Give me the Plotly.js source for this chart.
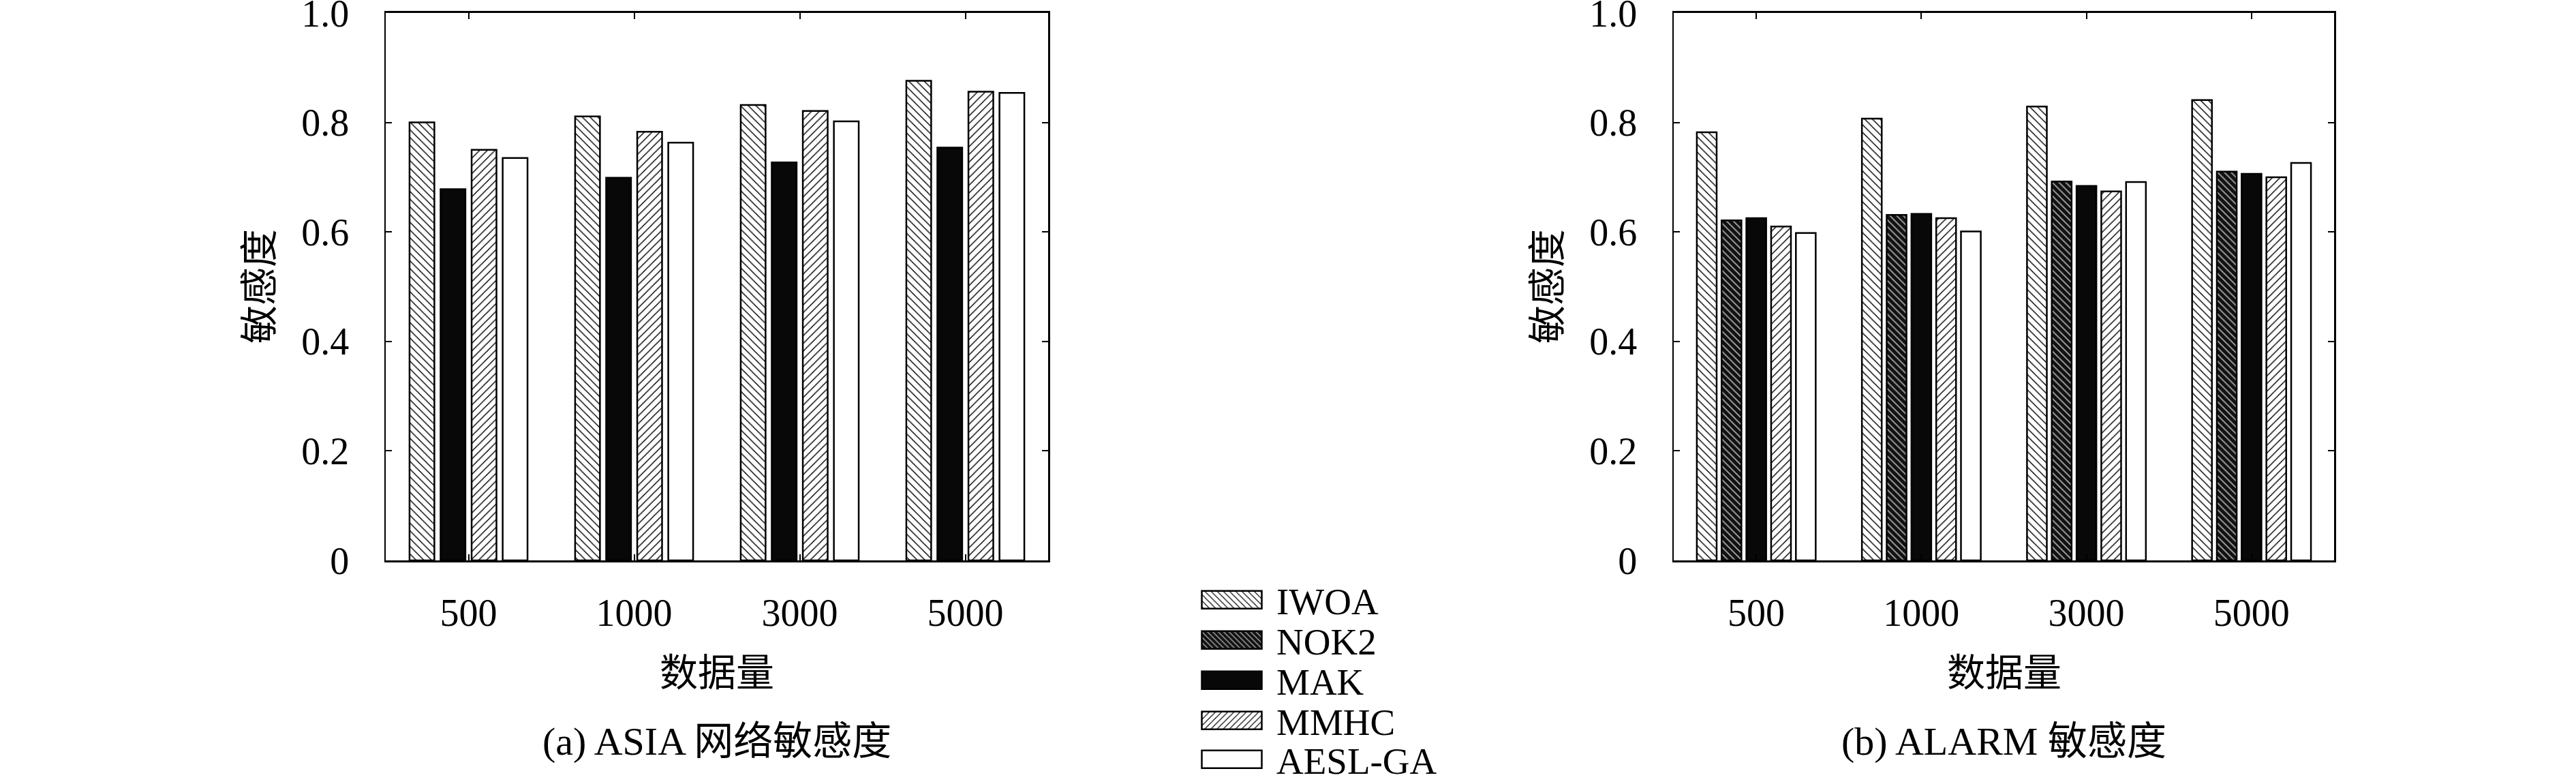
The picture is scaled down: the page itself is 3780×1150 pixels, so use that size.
<!DOCTYPE html>
<html>
<head>
<meta charset="utf-8">
<script src="https://cdn.plot.ly/plotly-3.0.1.min.js"></script>
<style>
  html, body { margin: 0; padding: 0; background: #fff; }
  #chart { width: 3780px; height: 1150px; }
</style>
</head>
<body>
<div id="chart"></div>
<script>
// ---------- DATA ----------
const sizes = ["500", "1000", "3000", "5000"];
const yTickVals = [0, 0.2, 0.4, 0.6, 0.8, 1.0];
const yTickText = ["0", "0.2", "0.4", "0.6", "0.8", "1.0"];

// (a) ASIA
const asiaIWOA = [0.800, 0.811, 0.832, 0.876];
const asiaMAK  = [0.678, 0.699, 0.727, 0.754];
const asiaMMHC = [0.750, 0.783, 0.821, 0.856];
const asiaAESL = [0.735, 0.763, 0.802, 0.854];

// (b) ALARM
const alarmIWOA = [0.782, 0.807, 0.829, 0.841];
const alarmNOK2 = [0.621, 0.631, 0.692, 0.710];
const alarmMAK  = [0.625, 0.633, 0.684, 0.706];
const alarmMMHC = [0.610, 0.625, 0.674, 0.700];
const alarmAESL = [0.598, 0.601, 0.691, 0.726];

// ---------- STYLES ----------
const SERIF = "'Liberation Serif', 'DejaVu Serif', serif";
const MIXED = "'Liberation Serif', 'Noto Sans CJK SC', serif";
const outline = { color: "#000", width: 2.5 };

const styles = {
  IWOA: { color: "#fff", line: outline,
          pattern: { shape: "\\", fgcolor: "#000", bgcolor: "#fff", size: 8, solidity: 0.18 } },
  NOK2: { color: "#111", line: outline,
          pattern: { shape: "\\", fgcolor: "#aaa", bgcolor: "#111", size: 7, solidity: 0.25 } },
  MAK:  { color: "#080808", line: outline },
  MMHC: { color: "#fff", line: outline,
          pattern: { shape: "/", fgcolor: "#000", bgcolor: "#fff", size: 8, solidity: 0.18 } },
  AESL: { color: "#fff", line: outline }
};

function bar(name, key, y, xa, ya, legendId) {
  return {
    type: "bar", name: name, x: sizes, y: y,
    xaxis: xa, yaxis: ya,
    marker: styles[key],
    showlegend: !!legendId,
    legend: legendId || "legend",
    hoverinfo: "skip"
  };
}

const traces = [
  bar("IWOA", "IWOA", asiaIWOA, "x", "y"),
  bar("MAK", "MAK", asiaMAK, "x", "y"),
  bar("MMHC", "MMHC", asiaMMHC, "x", "y"),
  bar("AESL-GA", "AESL", asiaAESL, "x", "y"),

  bar("IWOA", "IWOA", alarmIWOA, "x2", "y2", "legend"),
  bar("NOK2", "NOK2", alarmNOK2, "x2", "y2", "legend2"),
  bar("MAK", "MAK", alarmMAK, "x2", "y2", "legend3"),
  bar("MMHC", "MMHC", alarmMMHC, "x2", "y2", "legend4"),
  bar("AESL-GA", "AESL", alarmAESL, "x2", "y2", "legend5")
];

// ---------- AXES ----------
function xAxis(domain, anchor) {
  return {
    domain: domain, anchor: anchor, type: "category",
    showline: true, linecolor: "#000", linewidth: 2.5, mirror: "ticks",
    ticks: "inside", ticklen: 9, tickwidth: 2, tickcolor: "#000",
    ticklabelstandoff: 26,
    tickfont: { family: SERIF, size: 56, color: "#000" },
    showgrid: false, zeroline: false, fixedrange: true
  };
}
function yAxis(anchor) {
  return {
    domain: [0.2852, 0.9835], anchor: anchor, range: [0, 1],
    tickvals: yTickVals, ticktext: yTickText,
    showline: true, linecolor: "#000", linewidth: 2.5, mirror: "ticks",
    ticks: "inside", ticklen: 9, tickwidth: 2, tickcolor: "#000",
    ticklabelstandoff: 40, ticklabeloverflow: "allow",
    tickfont: { family: SERIF, size: 56, color: "#000" },
    showgrid: false, zeroline: false, fixedrange: true
  };
}

function legendAt(yPix) {
  return {
    xref: "container", yref: "container",
    x: 1742 / 3780, xanchor: "left",
    y: 1 - yPix / 1150, yanchor: "middle",
    bgcolor: "rgba(0,0,0,0)", borderwidth: 0,
    itemwidth: 121, itemclick: false, itemdoubleclick: false,
    font: { family: SERIF, size: 55, color: "#000" }
  };
}

function text(t, x, y, size, angle) {
  return {
    text: t, xref: "paper", yref: "paper", x: x, y: y,
    xanchor: "center", yanchor: "middle", showarrow: false,
    textangle: angle || 0,
    font: { family: MIXED, size: size, color: "#000" }
  };
}

const leftDom = [566 / 3780, 1538 / 3780];
const rightDom = [2456 / 3780, 3425 / 3780];
const midL = (leftDom[0] + leftDom[1]) / 2;
const midR = (rightDom[0] + rightDom[1]) / 2;

const layout = {
  width: 3780, height: 1150,
  margin: { l: 0, r: 0, t: 0, b: 0, autoexpand: false },
  paper_bgcolor: "#fff", plot_bgcolor: "#fff",
  barmode: "group", bargap: 0.25, bargroupgap: 0.2,
  xaxis: xAxis(leftDom, "y"),
  yaxis: yAxis("x"),
  xaxis2: xAxis(rightDom, "y2"),
  yaxis2: yAxis("x2"),
  legend: legendAt(880),
  legend2: legendAt(939),
  legend3: legendAt(998),
  legend4: legendAt(1057),
  legend5: legendAt(1114),
  annotations: [
    text("敏感度", 381 / 3780, 1 - 420 / 1150, 56, -90),
    text("敏感度", 2271 / 3780, 1 - 420 / 1150, 56, -90),
    text("数据量", midL, 1 - 987 / 1150, 56),
    text("数据量", midR, 1 - 987 / 1150, 56),
    text("(a) ASIA 网络敏感度", midL, 1 - 1087 / 1150, 58),
    text("(b) ALARM 敏感度", midR, 1 - 1087 / 1150, 58)
  ]
};

Plotly.newPlot("chart", traces, layout, { staticPlot: true, displayModeBar: false })
  .then(function () {
    // wide legend swatches like the original figure
    document.querySelectorAll(".legendpoints path").forEach(function (p) {
      p.setAttribute("d", "M44,13H-44V-13H44Z");
    });
  });
</script>
</body>
</html>
